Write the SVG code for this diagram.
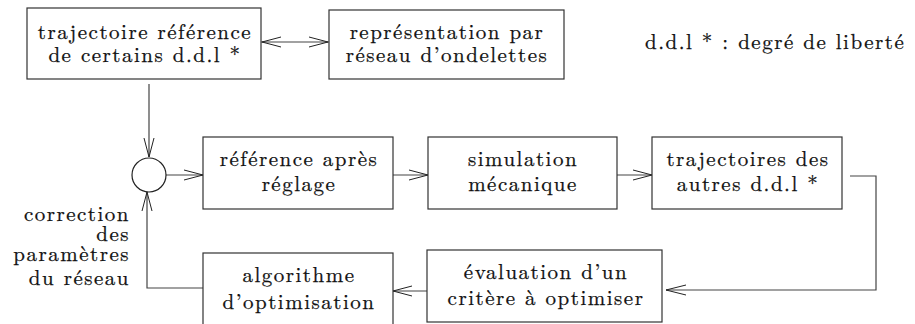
<svg xmlns="http://www.w3.org/2000/svg" width="915" height="324" viewBox="0 0 915 324">
<style>
.box{fill:#fff;stroke:#333;stroke-width:1.2}
.ln{fill:none;stroke:#444;stroke-width:1.2}
.ah{fill:none;stroke:#222;stroke-width:1}
.t{font-family:'Latin Modern Roman','Liberation Serif',serif;font-size:21px;letter-spacing:1.5px;fill:#111;stroke:#111;stroke-width:0.25}
.c{text-anchor:middle}
.r{text-anchor:end}
</style>
<rect width="915" height="324" fill="#fff"/>
<g id="connectors">
<line class="ln" x1="261" y1="42" x2="329" y2="42"/>
<polyline class="ah" points="281,37 262,42 281,47"/>
<polyline class="ah" points="309,37 328,42 309,47"/>
<line class="ln" x1="149" y1="84" x2="149" y2="157"/>
<polyline class="ah" points="144,138 149,157 154,138"/>
<line class="ln" x1="166" y1="175" x2="203" y2="175"/>
<polyline class="ah" points="184,170 203,175 184,180"/>
<line class="ln" x1="393" y1="175" x2="428" y2="175"/>
<polyline class="ah" points="409,170 428,175 409,180"/>
<line class="ln" x1="617" y1="175" x2="652" y2="175"/>
<polyline class="ah" points="633,170 652,175 633,180"/>
<polyline class="ln" points="850,176 876,176 876,290 666,290"/>
<polyline class="ah" points="686,285 666,290 686,295"/>
<line class="ln" x1="427" y1="291" x2="393" y2="291"/>
<polyline class="ah" points="412,286 393,291 412,296"/>
<polyline class="ln" points="203,288 147,288 147,192"/>
<polyline class="ah" points="142,211 147,192 152,211"/>
</g>
<g id="sum">
<circle cx="149" cy="175" r="17" fill="#fff" stroke="#222" stroke-width="1.2"/>
</g>
<g id="n1">
<rect class="box" x="27" y="8" width="234" height="71"/>
<text class="t c" x="145" y="39">trajectoire référence</text>
<text class="t c" x="145" y="62">de certains d.d.l *</text>
</g>
<g id="n2">
<rect class="box" x="329" y="10" width="235" height="69"/>
<text class="t c" x="447" y="39">représentation par</text>
<text class="t c" x="447" y="62">réseau d’ondelettes</text>
</g>
<g id="legend">
<text class="t" x="645" y="49">d.d.l * : degré de liberté</text>
</g>
<g id="n3">
<rect class="box" x="203" y="137" width="190" height="72"/>
<text class="t c" x="299" y="166">référence après</text>
<text class="t c" x="299" y="191">réglage</text>
</g>
<g id="n4">
<rect class="box" x="428" y="137" width="189" height="72"/>
<text class="t c" x="523" y="166">simulation</text>
<text class="t c" x="523" y="191">mécanique</text>
</g>
<g id="n5">
<rect class="box" x="652" y="137" width="190" height="72"/>
<text class="t c" x="748" y="166">trajectoires des</text>
<text class="t c" x="748" y="191">autres d.d.l *</text>
</g>
<g id="n6">
<rect class="box" x="427" y="250" width="235" height="72"/>
<text class="t c" x="546" y="279">évaluation d’un</text>
<text class="t c" x="546" y="305">critère à optimiser</text>
</g>
<g id="n7">
<rect class="box" x="203" y="253" width="190" height="75"/>
<text class="t c" x="299" y="282">algorithme</text>
<text class="t c" x="299" y="309">d’optimisation</text>
</g>
<g id="label">
<text class="t r" x="130" y="221">correction</text>
<text class="t r" x="130" y="241">des</text>
<text class="t r" x="130" y="261">paramètres</text>
<text class="t r" x="130" y="285">du réseau</text>
</g>
</svg>
